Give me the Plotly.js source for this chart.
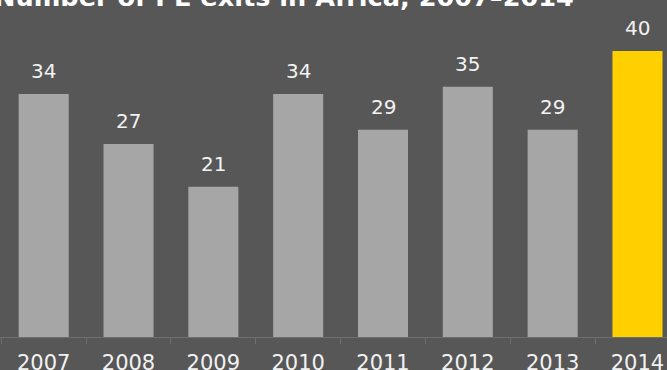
<!DOCTYPE html>
<html>
<head>
<meta charset="utf-8">
<script src="https://cdn.plot.ly/plotly-3.0.1.min.js"></script>
<style>html,body{margin:0;padding:0;background:#575757;}#chart{width:667px;height:370px;}</style>
</head>
<body>
<div id="chart"></div>
<script>
const years = ['2007','2008','2009','2010','2011','2012','2013','2014'];
const exits = [34, 27, 21, 34, 29, 35, 29, 40];
const barColors = ['#a6a6a6','#a6a6a6','#a6a6a6','#a6a6a6','#a6a6a6','#a6a6a6','#a6a6a6','#ffd000'];
const chartTitle = 'Number of PE exits in Africa, 2007–2014';

const trace = {
  type: 'bar',
  x: years,
  y: exits,
  width: 0.59,
  marker: {color: barColors, line: {width: 0}},
  hoverinfo: 'skip'
};

const annotations = years.map((yr, i) => ({
  x: i, y: exits[i], xref: 'x', yref: 'y',
  text: String(exits[i]), showarrow: false,
  xanchor: 'center', yanchor: 'bottom', yshift: 9,
  font: {family: 'DejaVu Sans', size: 20, color: '#f2f2f2'}
}));
annotations.push({
  x: -8/667, y: 1, xref: 'paper', yref: 'paper',
  xanchor: 'left', yanchor: 'bottom', yshift: -14,
  text: '<b>' + chartTitle + '</b>', showarrow: false,
  font: {family: 'DejaVu Sans', size: 25.6, color: '#ffffff'}
});

const layout = {
  width: 667, height: 370,
  margin: {l: 0, r: 0, t: 0, b: 33, pad: 0},
  paper_bgcolor: '#575757',
  plot_bgcolor: '#575757',
  showlegend: false,
  xaxis: {
    type: 'category',
    range: [-0.515, 7.348],
    showgrid: false, zeroline: false,
    showline: true, linecolor: '#6e6e6e', linewidth: 1,
    ticks: 'outside', tickson: 'boundaries', ticklen: 6, tickcolor: '#6e6e6e',
    ticklabelstandoff: 7,
    tickfont: {family: 'DejaVu Sans', size: 21, color: '#f2f2f2'},
    fixedrange: true
  },
  yaxis: {
    range: [0, 47.13],
    visible: false, showgrid: false, zeroline: false,
    fixedrange: true
  },
  annotations: annotations
};

Plotly.newPlot('chart', [trace], layout, {displayModeBar: false, staticPlot: true});
</script>
</body>
</html>
